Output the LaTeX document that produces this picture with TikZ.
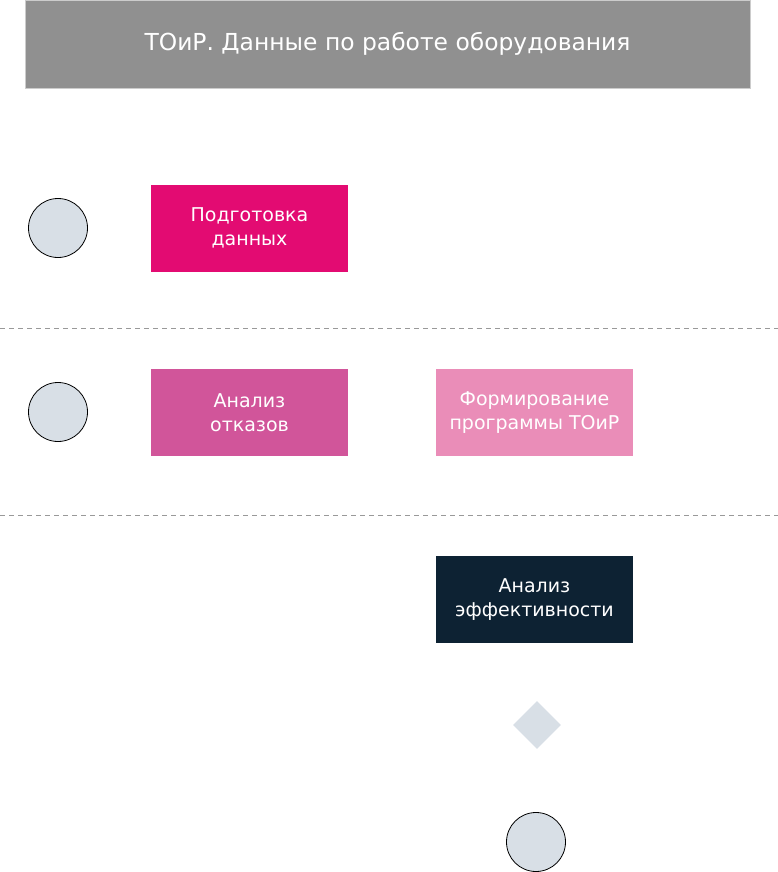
\documentclass[tikz,border=0pt]{standalone}
\usepackage{fontspec}
\setmainfont{DejaVu Sans}
\usetikzlibrary{shapes.geometric}
\definecolor{titlegray}{HTML}{909090}
\definecolor{pinkA}{HTML}{E30B72}
\definecolor{pinkB}{HTML}{D1559A}
\definecolor{pinkC}{HTML}{EA8DB8}
\definecolor{navy}{HTML}{0D2233}
\definecolor{pale}{HTML}{D8DFE6}
\tikzset{
  box/.style={rectangle, minimum width=197pt, minimum height=87pt, inner sep=0pt, align=center, text=white, font=\fontsize{19pt}{24pt}\selectfont},
  startend/.style={circle, draw=black, line width=0.8pt, fill=pale, minimum size=59pt, inner sep=0pt},
  gate/.style={diamond, fill=pale, minimum width=48pt, minimum height=48pt, inner sep=0pt},
  lane/.style={draw=gray!80, line width=0.8pt, dash pattern=on 5pt off 4pt}
}
\begin{document}
\begin{tikzpicture}[x=1pt,y=-1pt]
\useasboundingbox (0,0) rectangle (778,872);
\node[rectangle, fill=titlegray, draw=gray!40, minimum width=725pt, minimum height=88pt, inner sep=0pt, text=white, font=\fontsize{23.4pt}{28pt}\selectfont] (title) at (387.5,44) {ТОиР. Данные по работе оборудования};
\coordinate (l1a) at (0,328); \coordinate (l1b) at (778,328);
\coordinate (l2a) at (0,515); \coordinate (l2b) at (778,515);
\draw[lane] (l1a) -- (l1b);
\draw[lane] (l2a) -- (l2b);
\node[startend] (c1) at (58,228) {};
\node[box, fill=pinkA] (prep) at (249.5,228) {Подготовка\\данных};
\node[startend] (c2) at (58,412) {};
\node[box, fill=pinkB] (fail) at (249.5,412.5) {Анализ\\отказов};
\node[box, fill=pinkC] (prog) at (534.5,412.5) {Формирование\\программы ТОиР};
\node[box, fill=navy] (eff) at (534.5,599.5) {Анализ\\эффективности};
\node[gate] (dec) at (537,725) {};
\node[startend] (c3) at (536,842) {};
\end{tikzpicture}
\end{document}
